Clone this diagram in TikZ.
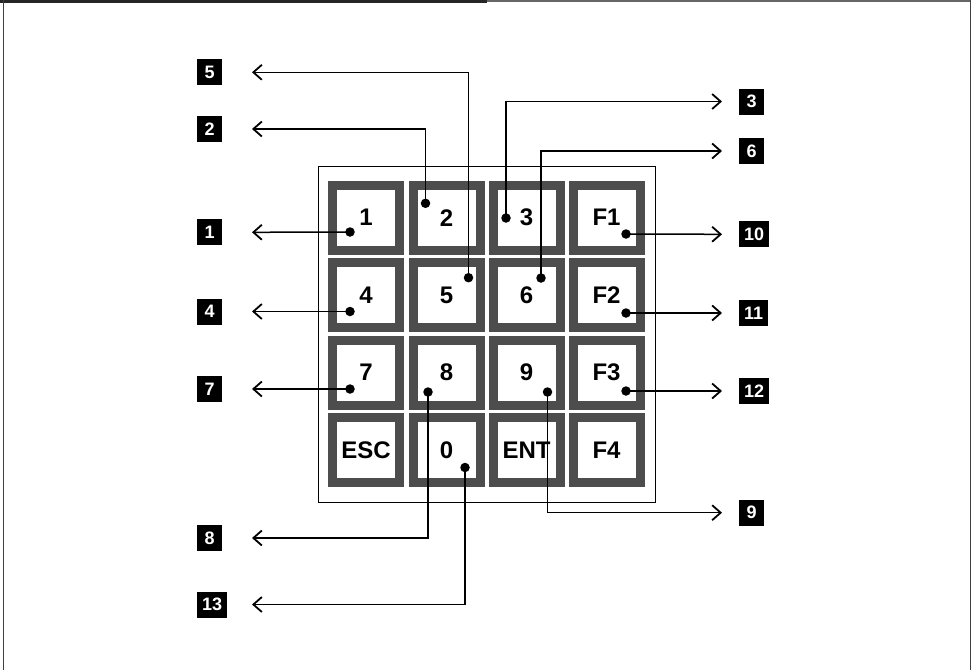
\documentclass[tikz,border=0pt]{standalone}
\usepackage{fontspec}
\setmainfont{Liberation Sans}
\usetikzlibrary{arrows.meta}
\definecolor{keygray}{HTML}{4D4D4D}
\tikzset{
  keybox/.style={draw=keygray, line width=9pt, minimum width=67pt, minimum height=65pt, inner sep=0pt,
    font=\fontsize{24}{24}\selectfont\bfseries},
  tag/.style={fill=black, text=white, inner xsep=5pt, inner ysep=0pt, minimum width=25pt, minimum height=26pt,
    font=\fontsize{18}{18}\selectfont\bfseries},
  dot/.style={circle, fill=black, minimum size=9.5pt, inner sep=0pt},
  conn/.style={line width=1.5pt, -{Straight Barb[length=8.5pt, width=15pt, line width=1.8pt]}},
}
\begin{document}
\begin{tikzpicture}[x=1pt, y=-1pt]
\useasboundingbox (0,0) rectangle (972,670);
% frame
\draw[line width=3pt, black!85] (0,1.5) -- (487,1.5);
\draw[line width=1.2pt, black!60] (487,1) -- (971,1);
\draw[line width=1.5pt, black!75] (3.5,0) -- (3.5,670);
\draw[line width=1.5pt, black!75] (970.3,0) -- (970.3,670);
% keypad frame
\node[draw, line width=1pt, minimum width=337pt, minimum height=336pt, inner sep=0pt] (pad) at (486.5,334) {};
% keys
\node[keybox] (k1)  at (366,217.7) {1};
\node[keybox] (k2)  at (446.5,217.7) {2};
\node[keybox] (k3)  at (526.5,217.7) {3};
\node[keybox] (kF1) at (606.5,217.7) {F1};
\node[keybox] (k4)  at (366,295.1) {4};
\node[keybox] (k5)  at (446.5,295.1) {5};
\node[keybox] (k6)  at (526.5,295.1) {6};
\node[keybox] (kF2) at (606.5,295.1) {F2};
\node[keybox] (k7)  at (366,372.5) {7};
\node[keybox] (k8)  at (446.5,372.5) {8};
\node[keybox] (k9)  at (526.5,372.5) {9};
\node[keybox] (kF3) at (606.5,372.5) {F3};
\node[keybox] (kE)  at (366,449.9) {ESC};
\node[keybox] (k0)  at (446.5,449.9) {0};
\node[keybox] (kN)  at (526.5,449.9) {ENT};
\node[keybox] (kF4) at (606.5,449.9) {F4};
% dots
\node[dot] (d1)  at (350,232) {};
\node[dot] (d2)  at (425.5,203.3) {};
\node[dot] (d3)  at (506,218) {};
\node[dot] (dF1) at (626,234) {};
\node[dot] (d4)  at (350,311.5) {};
\node[dot] (d5)  at (468.5,277.7) {};
\node[dot] (d6)  at (541,278) {};
\node[dot] (dF2) at (626,313) {};
\node[dot] (d7)  at (350,389) {};
\node[dot] (d8)  at (428,392) {};
\node[dot] (d9)  at (547.5,392) {};
\node[dot] (dF3) at (626,391) {};
\node[dot] (d0)  at (465,467.5) {};
% tags left
\node[tag, anchor=west] (t5)  at (197,72.3) {5};
\node[tag, anchor=west] (t2)  at (197,129) {2};
\node[tag, anchor=west] (t1)  at (197,232.3) {1};
\node[tag, anchor=west] (t4)  at (197,311.5) {4};
\node[tag, anchor=west] (t7)  at (197,389) {7};
\node[tag, anchor=west] (t8)  at (197,538) {8};
\node[tag, anchor=west] (t13) at (197,604.5) {13};
% tags right
\node[tag, anchor=west] (t3)  at (739,101.5) {3};
\node[tag, anchor=west] (t6)  at (739,151) {6};
\node[tag, anchor=west] (t10) at (739,234.3) {10};
\node[tag, anchor=west] (t11) at (739,313) {11};
\node[tag, anchor=west] (t12) at (739,391) {12};
\node[tag, anchor=west] (t9)  at (739,512.7) {9};
% arrow ends
\coordinate (a5)  at (252,72.3);
\coordinate (a2)  at (252,129);
\coordinate (a1)  at (252,232.3);
\coordinate (a4)  at (252,311.5);
\coordinate (a7)  at (252,389);
\coordinate (a8)  at (252,538);
\coordinate (a13) at (252,604.5);
\coordinate (a3)  at (722,101.5);
\coordinate (a6)  at (722,151);
\coordinate (a10) at (722,234.3);
\coordinate (a11) at (722,313);
\coordinate (a12) at (722,391);
\coordinate (a9)  at (722,512.7);
% connectors
\draw[conn] (d5.center) |- (a5);
\draw[conn] (d2.center) |- (a2);
\draw[conn] (d1.center) -- (a1);
\draw[conn] (d4.center) -- (a4);
\draw[conn] (d7.center) -- (a7);
\draw[conn] (d8.center) |- (a8);
\draw[conn] (d0.center) |- (a13);
\draw[conn] (d3.center) |- (a3);
\draw[conn] (d6.center) |- (a6);
\draw[conn] (dF1.center) -- (a10);
\draw[conn] (dF2.center) -- (a11);
\draw[conn] (dF3.center) -- (a12);
\draw[conn] (d9.center) |- (a9);
\end{tikzpicture}
\end{document}
